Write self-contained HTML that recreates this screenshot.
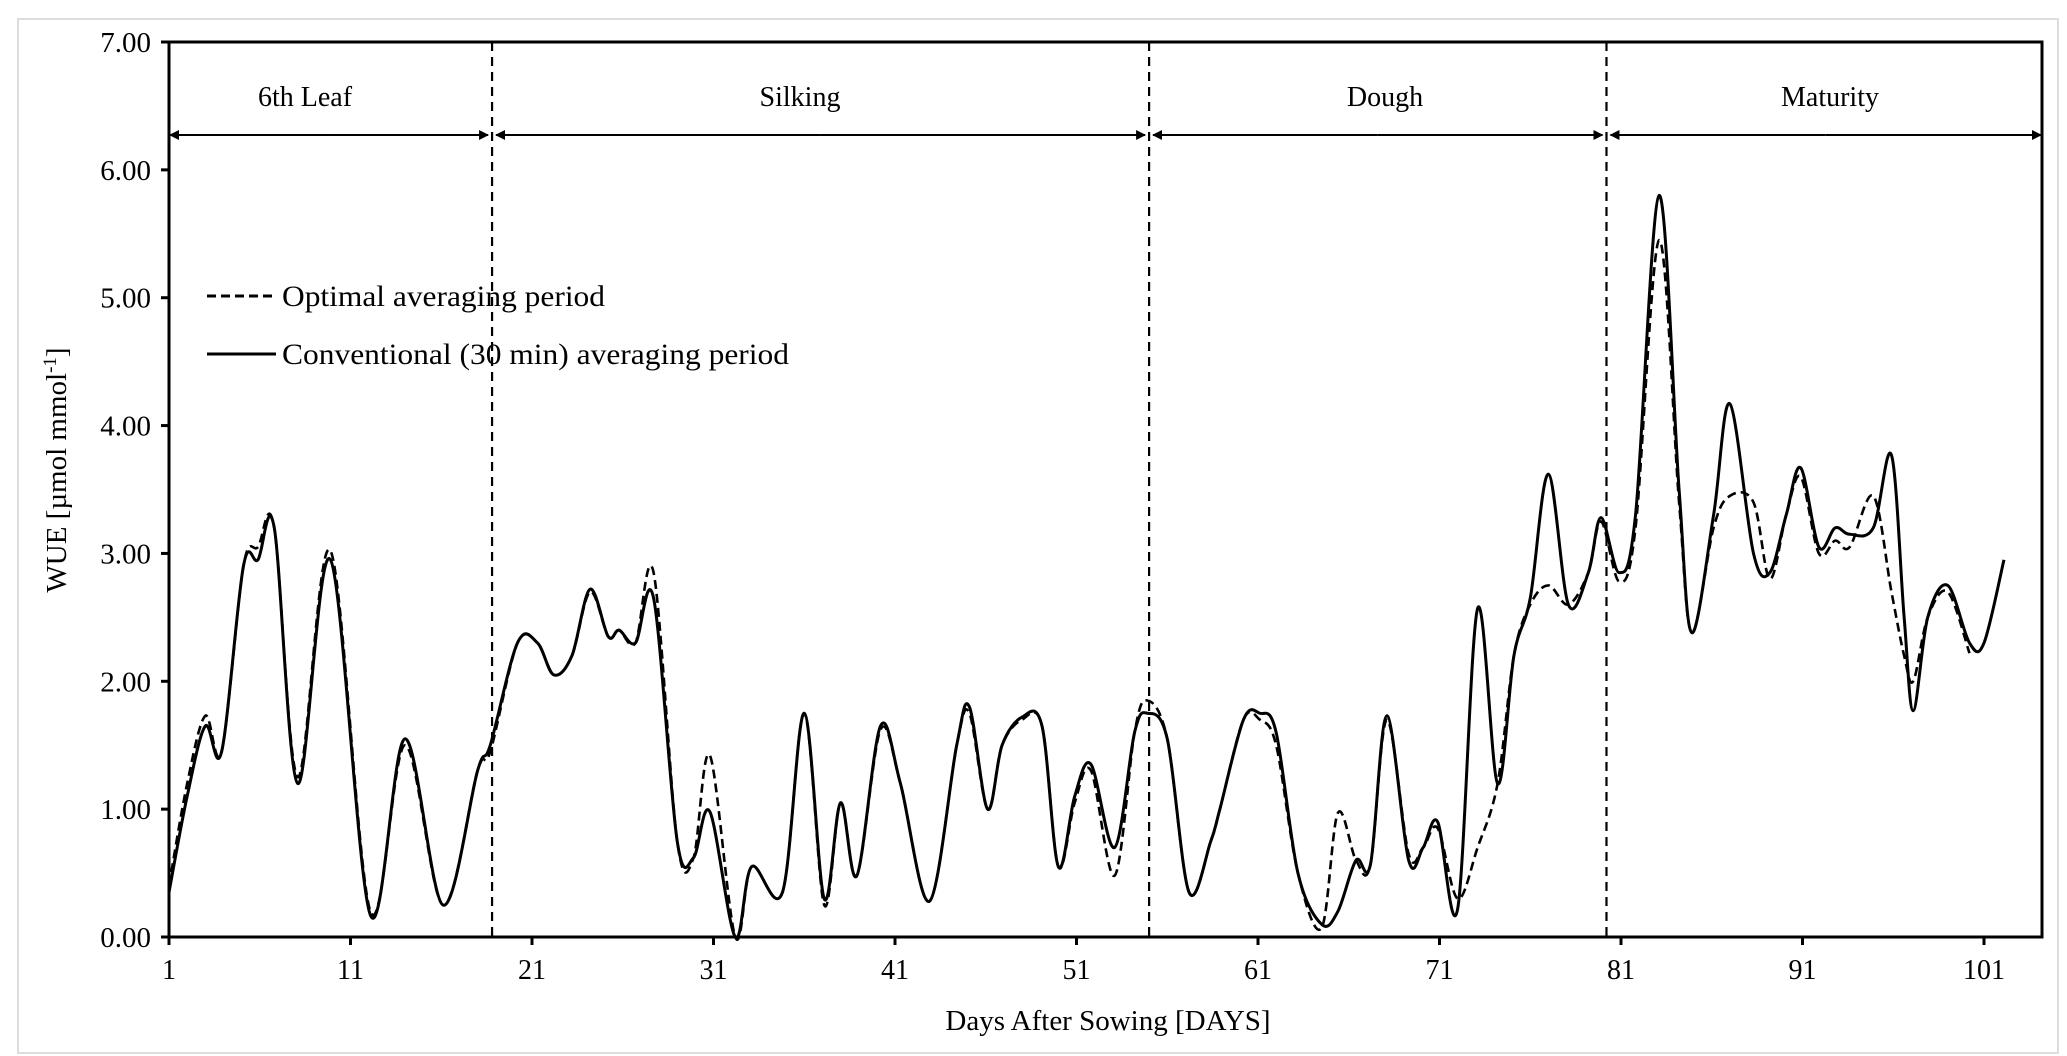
<!DOCTYPE html>
<html><head><meta charset="utf-8"><style>
html,body{margin:0;padding:0;background:#fff;}
svg{display:block;font-family:"Liberation Serif",serif;}
</style></head><body>
<svg id="chart" width="2067" height="1056" viewBox="0 0 2067 1056"></svg>
<script>
const solidDays=[1,2,3,3.9,5.1,5.9,6.8,8.1,9.9,12.1,14,16.1,18,18.7,20.2,21.3,22.2,23.2,24.2,25.2,25.8,26.7,27.7,29,29.9,30.8,32.2,33.1,34.8,36,37.1,38,38.9,40.2,41.3,42.9,44.4,45.1,46.1,46.9,48,49.1,50,50.9,51.8,53.1,54.2,54.9,56,57.2,58.4,58.9,60.2,61.1,62,63.2,64.5,65.4,66.4,67.2,68.1,69.3,70.1,70.9,72,73.1,74.2,75.1,76,77,78.1,79.2,79.9,80.9,81.8,83.1,84.2,84.9,86.1,87,88.3,89.2,90.1,90.9,91.9,92.8,93.6,94.9,95.9,96.6,97.1,97.9,99,100.2,101,102.1];
const solidValues=[0.35,1.1,1.65,1.45,2.9,2.95,3.2,1.2,2.95,0.17,1.55,0.25,1.3,1.5,2.3,2.3,2.05,2.2,2.72,2.35,2.4,2.3,2.65,0.75,0.62,0.98,0.0,0.55,0.35,1.75,0.3,1.05,0.48,1.65,1.2,0.28,1.5,1.8,1.0,1.5,1.72,1.65,0.55,1.1,1.35,0.7,1.6,1.75,1.55,0.35,0.75,1.0,1.7,1.75,1.6,0.5,0.1,0.2,0.6,0.57,1.73,0.6,0.7,0.9,0.22,2.57,1.2,2.2,2.65,3.62,2.6,2.85,3.28,2.85,3.3,5.8,3.5,2.38,3.3,4.17,3.0,2.85,3.3,3.67,3.05,3.2,3.15,3.2,3.77,2.5,1.77,2.5,2.75,2.3,2.3,2.95];
const dashDays=[1,2,3,3.9,5.1,5.9,6.8,8.1,9.9,12.1,14,16.1,18,18.7,20.2,21.3,22.2,23.2,24.2,25.2,25.8,26.7,27.7,29,29.9,30.8,32.2,33.1,34.8,36,37.1,38,38.9,40.2,41.3,42.9,44.4,45.1,46.1,46.9,48,49.1,50,50.9,51.8,53.1,54.2,54.9,56,57.2,58.4,58.9,60.2,61.1,62,63.2,64.5,65.4,66.4,67.2,68.1,69.3,70.1,70.9,72,73.1,74.2,75.1,76,77,78.1,79.2,79.9,80.9,81.8,83.1,84.2,84.9,86.1,87,88.3,89.2,90.1,90.9,91.9,92.8,93.6,94.9,95.9,96.6,97.1,97.9,99,100.2];
const dashValues=[0.4,1.2,1.73,1.45,2.9,3.05,3.2,1.25,3.02,0.2,1.5,0.25,1.3,1.45,2.3,2.3,2.05,2.2,2.7,2.35,2.4,2.3,2.85,0.75,0.62,1.42,0.0,0.55,0.35,1.75,0.25,1.05,0.48,1.62,1.2,0.28,1.5,1.75,1.0,1.5,1.7,1.65,0.55,1.05,1.3,0.48,1.6,1.85,1.55,0.35,0.75,1.0,1.7,1.7,1.5,0.5,0.07,0.97,0.6,0.57,1.7,0.65,0.7,0.85,0.3,0.7,1.2,2.2,2.6,2.75,2.6,2.85,3.25,2.78,3.2,5.45,3.4,2.38,3.2,3.45,3.4,2.8,3.3,3.6,3.0,3.1,3.05,3.45,2.7,2.2,2.0,2.5,2.7,2.22];
const yTicks=[0,1,2,3,4,5,6,7];
const xTicks=[1,11,21,31,41,51,61,71,81,91,101];
const stageBounds=[18.8,55,80.2];
const stageNames=["6th Leaf","Silking","Dough","Maturity"];

const L=169,R=2042,T=42,B=937;
const X=d=>L+(d-1)*18.15;
const Y=v=>B-v*(B-T)/7;
const svg=document.getElementById('chart');
const NS='http://www.w3.org/2000/svg';
function mk(tag,attrs,parent){const e=document.createElementNS(NS,tag);for(const k in attrs)e.setAttribute(k,attrs[k]);(parent||svg).appendChild(e);return e;}

const frame=mk('rect',{x:18,y:19,width:2040,height:1034,fill:'none',stroke:'#ddd','stroke-width':2});



const plot=mk('rect',{x:L,y:T,width:R-L,height:B-T,fill:'none',stroke:'#000','stroke-width':3});



yTicks.forEach(v=>{
  mk('line',{x1:L-8,x2:L,y1:Y(v),y2:Y(v),stroke:'#000','stroke-width':3});
  const t=mk('text',{x:L-18,y:Y(v)+10,'text-anchor':'end','font-size':29});
  t.textContent=v.toFixed(2);
  
  
});
xTicks.forEach(d=>{
  mk('line',{x1:X(d),x2:X(d),y1:B,y2:B+8,stroke:'#000','stroke-width':3});
  const t=mk('text',{x:X(d),y:B+42,'text-anchor':'middle','font-size':28});
  t.textContent=d;
  
  
});

const yt=mk('text',{x:0,y:0,'text-anchor':'middle','font-size':29,transform:'translate(66,470) rotate(-90)'});
yt.innerHTML='WUE [µmol mmol<tspan dy="-10" font-size="19">-1</tspan><tspan dy="10">]</tspan>';


const xt=mk('text',{x:1108,y:1030,'text-anchor':'middle','font-size':29});
xt.textContent='Days After Sowing [DAYS]';



const defs=mk('defs',{});
const m=mk('marker',{id:'ah',markerWidth:10,markerHeight:10,refX:9,refY:5,orient:'auto',markerUnits:'userSpaceOnUse'},defs);
mk('path',{d:'M0,0 L10,5 L0,10 Z',fill:'#000'},m);
const bounds=[1,...stageBounds];
const ends=[...stageBounds,(R-L)/18.15+1];
stageBounds.forEach(b=>{
  const l=mk('line',{x1:X(b),x2:X(b),y1:T,y2:B,stroke:'#000','stroke-width':2.2,'stroke-dasharray':'9,6'});
  
  
});
const labelX=[305,800,1385,1830];
stageNames.forEach((n,i)=>{
  const x1=X(bounds[i])+(i?4:1),x2=X(ends[i])-(i<3?4:1);
  const a=mk('line',{x1:(x1+x2)/2,x2:x2,y1:135,y2:135,stroke:'#000','stroke-width':2,'marker-end':'url(#ah)'});
  
  
  const b=mk('line',{x1:(x1+x2)/2,x2:x1,y1:135,y2:135,stroke:'#000','stroke-width':2,'marker-end':'url(#ah)'});
  
  
  const t=mk('text',{x:labelX[i],y:106,'text-anchor':'middle','font-size':28});
  t.textContent=n;
  
  
});

function smooth(days,vals){
  const p=days.map((d,i)=>[X(d),Y(vals[i])]);
  let s='M'+p[0][0]+','+p[0][1];
  for(let i=0;i<p.length-1;i++){
    const p0=p[i-1]||p[i],p1=p[i],p2=p[i+1],p3=p[i+2]||p2;
    const c1=[p1[0]+(p2[0]-p0[0])/6,p1[1]+(p2[1]-p0[1])/6];
    const c2=[p2[0]-(p3[0]-p1[0])/6,p2[1]-(p3[1]-p1[1])/6];
    s+=` C${c1[0]},${c1[1]} ${c2[0]},${c2[1]} ${p2[0]},${p2[1]}`;
  }
  return s;
}
const ds=mk('path',{d:smooth(dashDays,dashValues),fill:'none',stroke:'#000','stroke-width':2.6,'stroke-dasharray':'9,5'});


const ss=mk('path',{d:smooth(solidDays,solidValues),fill:'none',stroke:'#000','stroke-width':3});



const g=mk('g',{});


mk('line',{x1:207,x2:276,y1:296,y2:296,stroke:'#000','stroke-width':3,'stroke-dasharray':'9,5'},g);
mk('line',{x1:207,x2:276,y1:354,y2:354,stroke:'#000','stroke-width':3},g);
const l1=mk('text',{x:282,y:306,'font-size':30,textLength:323,lengthAdjust:'spacingAndGlyphs'},g);
l1.textContent='Optimal averaging period';


const l2=mk('text',{x:282,y:364,'font-size':30,textLength:507,lengthAdjust:'spacingAndGlyphs'},g);
l2.textContent='Conventional (30 min) averaging period';


</script>
</body></html>
